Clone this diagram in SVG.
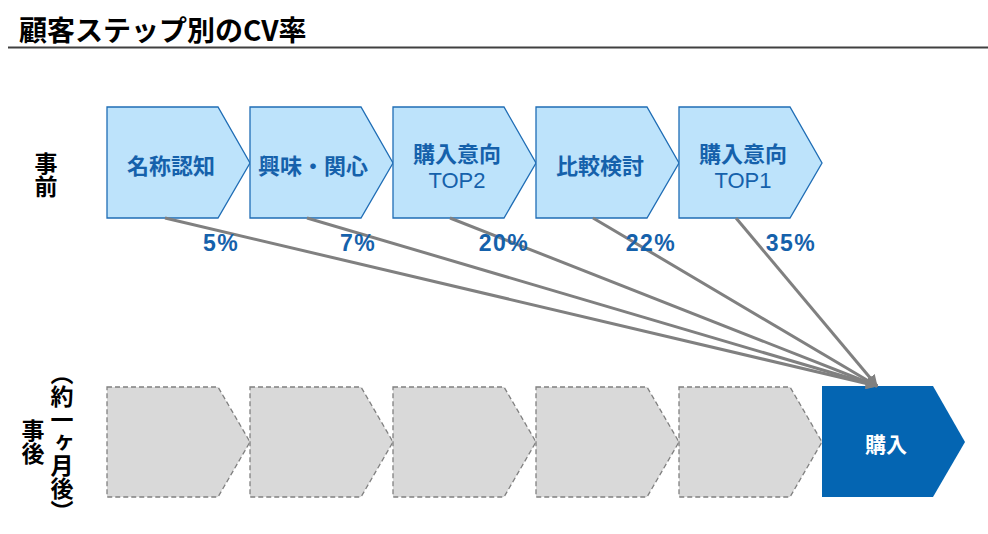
<svg xmlns="http://www.w3.org/2000/svg" width="988" height="534" viewBox="0 0 988 534">
<defs>
<style>
.jp{font-family:"Noto Sans CJK JP","Noto Sans",sans-serif;font-weight:bold}
.pre{fill:#BDE3FB;stroke:#1F6DB5;stroke-width:1.3}
.post{fill:#D9D9D9;stroke:#808080;stroke-width:1.3;stroke-dasharray:5 3}
.lbl{font-size:22px;fill:#1561AB;text-anchor:middle}
.top{font-family:"Liberation Sans",Arial,sans-serif;font-size:22px;fill:#1561AB;text-anchor:middle}
.pct{font-family:"Liberation Sans",Arial,sans-serif;font-weight:bold;font-size:23px;letter-spacing:1.5px;fill:#1561AB;text-anchor:middle}
.con{stroke:#808080;stroke-width:3;fill:none}
.side{font-size:23px;fill:#000;writing-mode:vertical-rl;text-anchor:middle}
</style>
<marker id="ah" viewBox="0 0 10 10" refX="9" refY="5" markerWidth="4" markerHeight="4" orient="auto" markerUnits="strokeWidth">
<path d="M0,0 L10,5 L0,10 z" fill="#808080"/>
</marker>
</defs>
<rect width="988" height="534" fill="#fff"/>
<g id="title">
<text class="jp" x="19" y="41" font-size="28" fill="#000">顧客ステップ別のCV率</text>
<line x1="8" y1="47.5" x2="988" y2="47.5" stroke="#404040" stroke-width="2"/>
</g>
<g id="label-pre"><text class="jp side" x="46" y="175">事前</text></g>
<g id="label-post"><text class="jp side" x="33" y="442">事後</text></g>
<g id="label-month"><text class="jp side" x="62" y="442" font-size="22">（約一ヶ月後）</text></g>

<g id="pre1"><path class="pre" d="M107,107H218L250,163L218,218H107Z"/><text class="jp lbl" x="171" y="174">名称認知</text></g>
<g id="pre2"><path class="pre" d="M250,107H361L393,163L361,218H250Z"/><text class="jp lbl" x="313" y="174">興味・関心</text></g>
<g id="pre3"><path class="pre" d="M393,107H504L536,163L504,218H393Z"/><text class="jp lbl" x="457" y="162">購入意向</text><text class="top" x="457" y="188">TOP2</text></g>
<g id="pre4"><path class="pre" d="M536,107H647L679,163L647,218H536Z"/><text class="jp lbl" x="600" y="174">比較検討</text></g>
<g id="pre5"><path class="pre" d="M679,107H790L822,163L790,218H679Z"/><text class="jp lbl" x="743" y="162">購入意向</text><text class="top" x="743" y="188">TOP1</text></g>

<g id="post1"><path class="post" d="M107,387H218L250,442L218,497H107Z"/></g>
<g id="post2"><path class="post" d="M250,387H361L393,442L361,497H250Z"/></g>
<g id="post3"><path class="post" d="M393,387H504L536,442L504,497H393Z"/></g>
<g id="post4"><path class="post" d="M536,387H647L679,442L647,497H536Z"/></g>
<g id="post5"><path class="post" d="M679,387H790L822,442L790,497H679Z"/></g>
<g id="purchase"><path d="M822,386H933L965,442L933,497H822Z" fill="#0465B2"/><text class="jp" x="886" y="452" font-size="21" fill="#fff" text-anchor="middle">購入</text></g>

<g id="connectors">
<line class="con" x1="165" y1="218" x2="877" y2="386" marker-end="url(#ah)"/>
<line class="con" x1="307" y1="218" x2="877" y2="386" marker-end="url(#ah)"/>
<line class="con" x1="450" y1="218" x2="877" y2="386" marker-end="url(#ah)"/>
<line class="con" x1="593" y1="218" x2="877" y2="386" marker-end="url(#ah)"/>
<line class="con" x1="736" y1="218" x2="877" y2="386" marker-end="url(#ah)"/>
</g>
<g id="percents">
<text class="pct" x="221" y="251">5%</text>
<text class="pct" x="358" y="251">7%</text>
<text class="pct" x="504" y="251">20%</text>
<text class="pct" x="651" y="251">22%</text>
<text class="pct" x="791" y="251">35%</text>
</g>
</svg>
